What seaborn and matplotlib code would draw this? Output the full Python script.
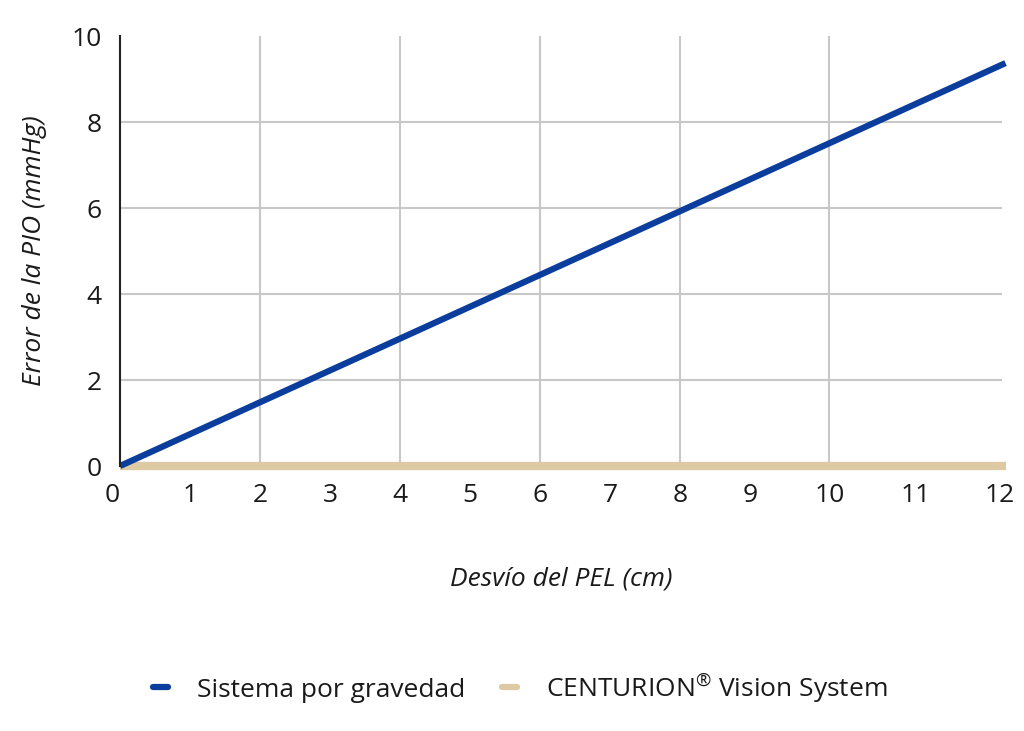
import numpy as np
import pandas as pd
import matplotlib
matplotlib.use("Agg")
import matplotlib.pyplot as plt
import seaborn as sns

# ======================
# data
# ======================
desvio_cm = [0.0, 12.65]
error_gravedad = [0.0, 9.37]
error_centurion = [0.0, 0.0]
series_names = ["Sistema por gravedad", "CENTURION$^{®}$ Vision System"]
series_colors = ["#0b3d9c", "#ddc9a3"]

x_tick_labels = [str(i) for i in range(13)]
# label positions as drawn in the reference (the last ones are spread out)
x_tick_pos = [0, 1, 2, 3, 4, 5, 6, 7, 8, 9, 10.14, 11.36, 12.57]
x_grid = [2, 4, 6, 8, 10.13]
y_ticks = [0, 2, 4, 6, 8, 10]

df = pd.DataFrame({
    "x": desvio_cm * 2,
    "y": error_gravedad + error_centurion,
    "serie": [series_names[0]] * 2 + [series_names[1]] * 2,
})

sns.set_theme(style="white")
plt.rcParams["font.family"] = ["Open Sans", "DejaVu Sans"]
plt.rcParams["mathtext.fontset"] = "custom"
plt.rcParams["mathtext.rm"] = "Open Sans"
plt.rcParams["mathtext.it"] = "Open Sans:italic"

fig = plt.figure(figsize=(10.24, 7.31), dpi=100)
ax = fig.add_axes([120 / 1024, 1 - 466 / 731, 882 / 1024, 430 / 731])

# grid
for gx in x_grid:
    ax.axvline(gx, color="#c8c8c8", lw=1.5, zorder=0)
for gy in y_ticks[1:-1]:
    ax.axhline(gy, color="#c8c8c8", lw=1.5, zorder=0)

# centurion first so the blue line sits on top
sns.lineplot(data=df[df.serie == series_names[1]], x="x", y="y", color=series_colors[1],
             lw=6, ax=ax, clip_on=False, solid_capstyle="butt", estimator=None)
sns.lineplot(data=df[df.serie == series_names[0]], x="x", y="y", color=series_colors[0],
             lw=4.5, ax=ax, clip_on=False, solid_capstyle="butt", estimator=None)

ax.set_xlim(0, 12.6)
ax.set_ylim(0, 10)
ax.set_xticks(x_tick_pos)
ax.set_xticklabels(x_tick_labels)
ax.set_yticks(y_ticks)
ax.tick_params(axis="both", length=0, labelsize=19, colors="#1a1a1a")
ax.tick_params(axis="x", pad=12)
ax.tick_params(axis="y", pad=13)
ax.get_xticklabels()[0].set_ha("right")

for s in ["top", "right", "bottom"]:
    ax.spines[s].set_visible(False)
ax.spines["left"].set_color("#222222")
ax.spines["left"].set_linewidth(1.5)

ax.set_xlabel("Desvío del PEL (cm)", fontsize=19, style="italic", color="#1a1a1a", labelpad=42)
ax.set_ylabel("Error de la PIO (mmHg)", fontsize=19, style="italic", color="#1a1a1a", labelpad=18)

handles = [plt.Line2D([], [], color=c, lw=4.5) for c in series_colors]
fig.legend(handles, series_names, loc="center", bbox_to_anchor=(0.508, 1 - 688 / 731),
           ncol=2, frameon=False, fontsize=19, handlelength=0.55, handletextpad=1.1,
           columnspacing=1.4, labelcolor="#1a1a1a")

fig.savefig("out.png", dpi=100)
